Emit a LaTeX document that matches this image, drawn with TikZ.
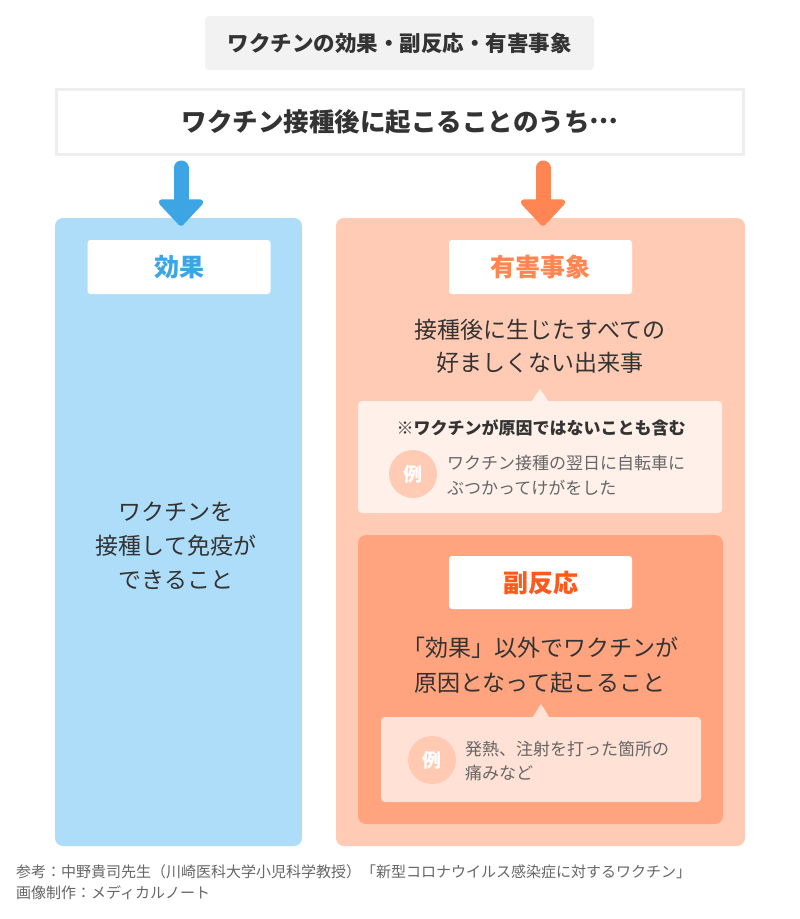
\documentclass[tikz,border=0pt]{standalone}
\usepackage{fontspec}
\setmainfont{Noto Sans CJK JP}
\usetikzlibrary{arrows.meta,positioning,calc}
\definecolor{titlegray}{HTML}{F2F2F2}
\definecolor{framegray}{HTML}{EEEEEE}
\definecolor{inkdark}{HTML}{333333}
\definecolor{inkgray}{HTML}{666666}
\definecolor{effblue}{HTML}{3DA5E4}
\definecolor{effpale}{HTML}{AEDDFA}
\definecolor{advorange}{HTML}{FF8552}
\definecolor{advpale}{HTML}{FFCBB5}
\definecolor{notepale}{HTML}{FFF0EA}
\definecolor{sidedeep}{HTML}{FFA47F}
\definecolor{sidered}{HTML}{FF5A1C}
\definecolor{sidenote}{HTML}{FFE1D5}
\definecolor{exdotpale}{HTML}{FFC9B2}
\newcommand{\fs}[2]{\fontsize{#1}{#2}\selectfont}
\tikzset{
  panel/.style={rounded corners=8pt, inner sep=0pt},
  labelbox/.style={fill=white, rounded corners=3pt, inner sep=0pt,
      minimum width=183pt, minimum height=54pt, font=\fs{25}{25}\bfseries},
  bigtxt/.style={text=inkdark, align=center, inner sep=0pt},
  notebox/.style={rounded corners=4pt, inner sep=0pt},
  notetxt/.style={text=inkgray, align=left, anchor=west, inner sep=0pt},
  exdot/.style={circle, minimum size=48pt, inner sep=0pt, text=white,
      font=\fs{19}{19}\bfseries},
  downarr/.style={line width=15pt, line cap=round,
      -{Triangle[width=51pt,length=28pt,round,line width=6pt]}},
}
\begin{document}
\begin{tikzpicture}[x=1pt, y={(0pt,-1pt)}]
  \useasboundingbox (0,0) rectangle (800,919);
  \fill[white] (0,0) rectangle (800,919);
  \node[fill=titlegray, rounded corners=4pt, inner sep=0pt, minimum width=389pt,
    minimum height=54pt, text=inkdark, font=\fs{21.5}{21.5}\bfseries] (title) at (399.5,43)
    {ワクチンの効果・副反応・有害事象};
  \node[draw=framegray, line width=3pt, inner sep=0pt, minimum width=687pt,
    minimum height=65pt, text=inkdark, font=\fs{25.5}{25.5}\bfseries] (sub) at (400,122)
    {ワクチン接種後に起こることのうち\raisebox{0.3em}{…}};
  % two columns
  \node[panel, fill=effpale, minimum width=247pt, minimum height=628pt] (effpanel) at (178.5,532) {};
  \node[panel, fill=advpale, minimum width=409pt, minimum height=628pt] (advpanel) at (540.5,532) {};
  \node[labelbox, text=effblue] (effbox) at (179,267) {効果};
  \node[labelbox, text=advorange] (advbox) at (540.5,267) {有害事象};
  \node[bigtxt, font=\fs{23}{34}] (effdesc) at (176,546)
    {ワクチンを\\接種して免疫が\\できること};
  \node[bigtxt, font=\fs{23}{33}] (advdesc) at (540,346)
    {接種後に生じたすべての\\好ましくない出来事};
  % note under adverse events
  \node[notebox, fill=notepale, minimum width=364pt, minimum height=112pt] (note1) at (540,457) {};
  \fill[notepale] ([xshift=-8pt]note1.north) -- ([yshift=12pt]note1.north) -- ([xshift=8pt]note1.north) -- cycle;
  \node[bigtxt, font=\fs{17}{17}\bfseries] (note1head) at (541,428)
    {※ワクチンが原因ではないことも含む};
  \node[exdot, fill=advpale] (ex1) at (413,474) {例};
  \node[notetxt, font=\fs{17}{25}] (ex1txt) at (447,475)
    {ワクチン接種の翌日に自転車に\\ぶつかってけがをした};
  % side reactions
  \node[panel, fill=sidedeep, minimum width=365pt, minimum height=289pt] (sidepanel) at (540.5,679.5) {};
  \node[labelbox, text=sidered, minimum height=53pt] (sidebox) at (540.5,582.5) {副反応};
  \node[bigtxt, font=\fs{23}{35}] (sidedesc) at (540,665)
    {「効果」以外でワクチンが\\原因となって起こること};
  \node[notebox, fill=sidenote, minimum width=320pt, minimum height=85pt] (note2) at (541,759.5) {};
  \fill[sidenote] ([xshift=-8pt]note2.north) -- ([yshift=13pt]note2.north) -- ([xshift=8pt]note2.north) -- cycle;
  \node[exdot, fill=exdotpale] (ex2) at (432,760) {例};
  \node[notetxt, font=\fs{17}{24}] (ex2txt) at (465,761)
    {発熱、注射を打った箇所の\\痛みなど};
  % arrows
  \draw[downarr, effblue] ([yshift=-12pt]sub.south -| 181,0) -- ([yshift=-8pt]effpanel.north -| 181,0);
  \draw[downarr, advorange] ([yshift=-12pt]sub.south -| 543,0) -- ([yshift=-8pt]advpanel.north -| 543,0);
  \node[notetxt, text=inkgray, font=\fs{15}{21}] (credit) at (16,882.5)
    {参考：中野貴司先生（川崎医科大学小児科学教授）「新型コロナウイルス感染症に対するワクチン」\\画像制作：メディカルノート};
\end{tikzpicture}
\end{document}
